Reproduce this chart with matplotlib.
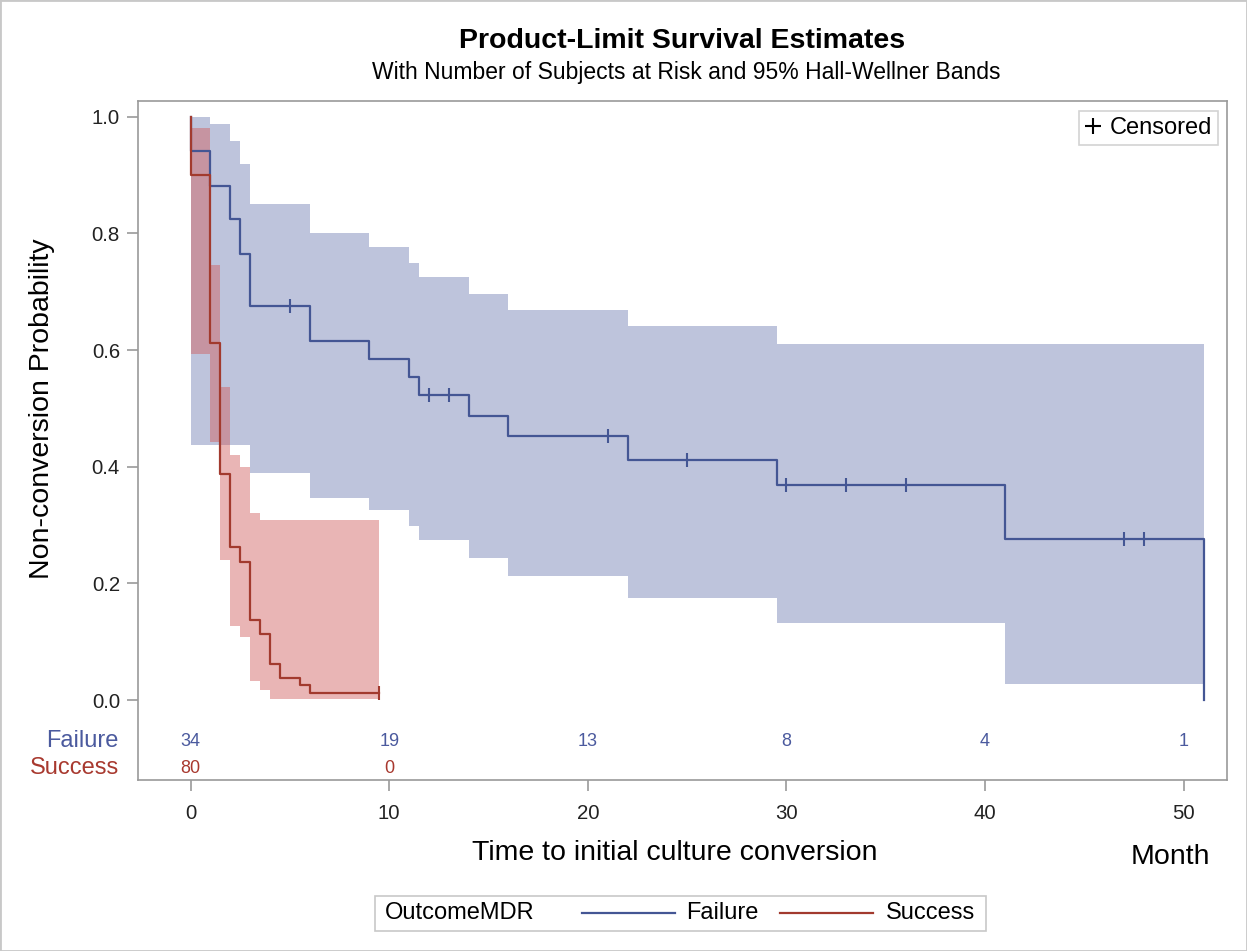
import matplotlib
matplotlib.use("Agg")
import matplotlib.pyplot as plt
from matplotlib.lines import Line2D
from matplotlib.patches import Rectangle

plt.rcParams['font.family'] = ['Liberation Sans', 'DejaVu Sans']

# ---------------- data ----------------
# Failure group: Kaplan-Meier step curve
fail_t = [0, 0, 1, 2, 2.5, 3, 6, 9, 11, 11.5, 14, 16, 22, 29.5, 41, 51]
fail_s = [1.0, 0.941, 0.882, 0.824, 0.765, 0.676, 0.615, 0.584, 0.553, 0.523,
          0.487, 0.453, 0.412, 0.368, 0.276, 0.0]
fail_cens_t = [5, 12, 13, 21, 25, 30, 33, 36, 47, 48]
fail_cens_s = [0.676, 0.523, 0.523, 0.453, 0.412, 0.368, 0.368, 0.368, 0.276, 0.276]
# Failure Hall-Wellner band
fail_band_t = [0, 1, 2, 2.5, 3, 6, 9, 11, 11.5, 14, 16, 22, 29.5, 41, 51]
fail_band_lo = [0.437, 0.437, 0.437, 0.437, 0.389, 0.346, 0.326, 0.298, 0.274,
                0.244, 0.213, 0.1755, 0.132, 0.028, 0.028]
fail_band_hi = [1.0, 0.987, 0.958, 0.919, 0.851, 0.800, 0.776, 0.750, 0.726,
                0.696, 0.668, 0.641, 0.610, 0.610, 0.610]

# Success group
succ_t = [0, 0, 1, 1.5, 2, 2.5, 3, 3.5, 4, 4.5, 5.5, 6, 9.5]
succ_s = [1.0, 0.90, 0.6125, 0.3875, 0.2625, 0.2375, 0.1375, 0.1125, 0.0625,
          0.0375, 0.025, 0.0125, 0.0125]
succ_cens_t = [9.5]
succ_cens_s = [0.0125]
succ_band_t = [0, 1, 1.5, 2, 2.5, 3, 3.5, 4, 9.5]
succ_band_lo = [0.593, 0.442, 0.240, 0.127, 0.1075, 0.033, 0.018, 0.002, 0.002]
succ_band_hi = [0.981, 0.746, 0.536, 0.420, 0.400, 0.321, 0.308, 0.308, 0.308]

# Number at risk
risk_times = [0, 10, 20, 30, 40, 50]
risk_fail = [34, 19, 13, 8, 4, 1]
risk_succ_times = [0, 10]
risk_succ = [80, 0]

x_ticks = [0, 10, 20, 30, 40, 50]
y_ticks = [0.0, 0.2, 0.4, 0.6, 0.8, 1.0]

# ---------------- styling ----------------
BLUE = '#445694'
RED = '#A23A2E'
BLUE_FILL = '#6F7EB3'
RED_FILL = '#D05B5B'
BLUE_TXT = '#4B5A9E'
RED_TXT = '#A8392F'
GRAY = '#9a9a9a'

W, H = 1247, 951
fig = plt.figure(figsize=(W / 100, H / 100), dpi=100)
L, R, T, B = 138, 1227, 101, 780
ax = fig.add_axes([L / W, 1 - B / H, (R - L) / W, (B - T) / H])
ax.set_xlim(-2.65, 52.18)
ax.set_ylim(-0.137, 1.027)

# bands
ax.fill_between(fail_band_t, fail_band_lo, fail_band_hi, step='post',
                color=BLUE_FILL, alpha=0.45, lw=0, zorder=1)
ax.fill_between(succ_band_t, succ_band_lo, succ_band_hi, step='post',
                color=RED_FILL, alpha=0.45, lw=0, zorder=2)

# curves
ax.plot(fail_t, fail_s, drawstyle='steps-post', color=BLUE, lw=1.6, zorder=4)
ax.plot(succ_t, succ_s, drawstyle='steps-post', color=RED, lw=1.6, zorder=4)
ax.plot(fail_cens_t, fail_cens_s, ls='none', marker='|', ms=10, mew=1.5,
        color=BLUE, zorder=5)
ax.plot(succ_cens_t, succ_cens_s, ls='none', marker='|', ms=10, mew=1.5,
        color=RED, zorder=5)

# at-risk table
y_fail_row = (700 - 741) / 583
y_succ_row = (700 - 768) / 583
for t, n in zip(risk_times, risk_fail):
    ax.text(t, y_fail_row, str(n), color=BLUE_TXT, fontsize=13,
            ha='center', va='center')
for t, n in zip(risk_succ_times, risk_succ):
    ax.text(t, y_succ_row, str(n), color=RED_TXT, fontsize=13,
            ha='center', va='center')
fig.text(119 / W, 1 - 741 / H, 'Failure', color=BLUE_TXT, fontsize=17,
         ha='right', va='center')
fig.text(119 / W, 1 - 768 / H, 'Success', color=RED_TXT, fontsize=17,
         ha='right', va='center')

# axes styling
for sp in ax.spines.values():
    sp.set_color(GRAY)
    sp.set_linewidth(1.2)
ax.set_xticks(x_ticks)
ax.set_xticklabels([str(v) for v in x_ticks])
ax.set_yticks(y_ticks)
ax.set_yticklabels([f'{v:.1f}' for v in y_ticks])
ax.tick_params(axis='both', direction='out', color=GRAY, width=1.2,
               labelsize=14.7, labelcolor='#222222')
ax.tick_params(axis='x', length=8, pad=9)
ax.tick_params(axis='y', length=8, pad=5)

# labels
fig.text(42 / W, 1 - 409 / H, 'Non-conversion Probability', rotation=90,
         fontsize=20.5, ha='center', va='center')
fig.text(675 / W, 1 - 853 / H, 'Time to initial culture conversion',
         fontsize=20.5, ha='center', va='center')
fig.text(1170 / W, 1 - 857 / H, 'Month', fontsize=20.5, ha='center', va='center')

# titles
fig.text(682 / W, 1 - 41 / H, 'Product-Limit Survival Estimates',
         fontsize=20.5, fontweight='bold', ha='center', va='center')
fig.text(686 / W, 1 - 72 / H,
         'With Number of Subjects at Risk and 95% Hall-Wellner Bands',
         fontsize=16.5, ha='center', va='center')

# censored legend
h = Line2D([], [], ls='none', marker='+', ms=11, mew=1.5, color='black')
leg = ax.legend([h], ['Censored'], loc='upper right',
                bbox_to_anchor=((1218 - L) / (R - L), (B - 111) / (B - T)),
                borderaxespad=0, frameon=True, fancybox=False,
                edgecolor='#c8c8c8', fontsize=17, handlelength=0.7,
                handletextpad=0.35, borderpad=0.25)
leg.get_frame().set_linewidth(1.2)

# bottom group legend (manual)
fig.patches.append(Rectangle((375 / W, 1 - 931 / H), (986 - 375) / W, 35 / H,
                             transform=fig.transFigure, fill=False,
                             edgecolor='#c8c8c8', lw=1.2))
ly = 1 - 913 / H
fig.text(385 / W, ly, 'OutcomeMDR', fontsize=17, ha='left', va='center')
fig.add_artist(Line2D([582 / W, 675 / W], [ly, ly], color=BLUE, lw=1.6,
                      transform=fig.transFigure))
fig.text(686 / W, ly, 'Failure', fontsize=17, ha='left', va='center')
fig.add_artist(Line2D([780 / W, 873 / W], [ly, ly], color=RED, lw=1.6,
                      transform=fig.transFigure))
fig.text(886 / W, ly, 'Success', fontsize=17, ha='left', va='center')

# outer border
fig.patches.append(Rectangle((0, 0), 1, 1, transform=fig.transFigure,
                             fill=False, edgecolor='#c8c8c8', lw=2))

fig.savefig('out.png', dpi=100)
